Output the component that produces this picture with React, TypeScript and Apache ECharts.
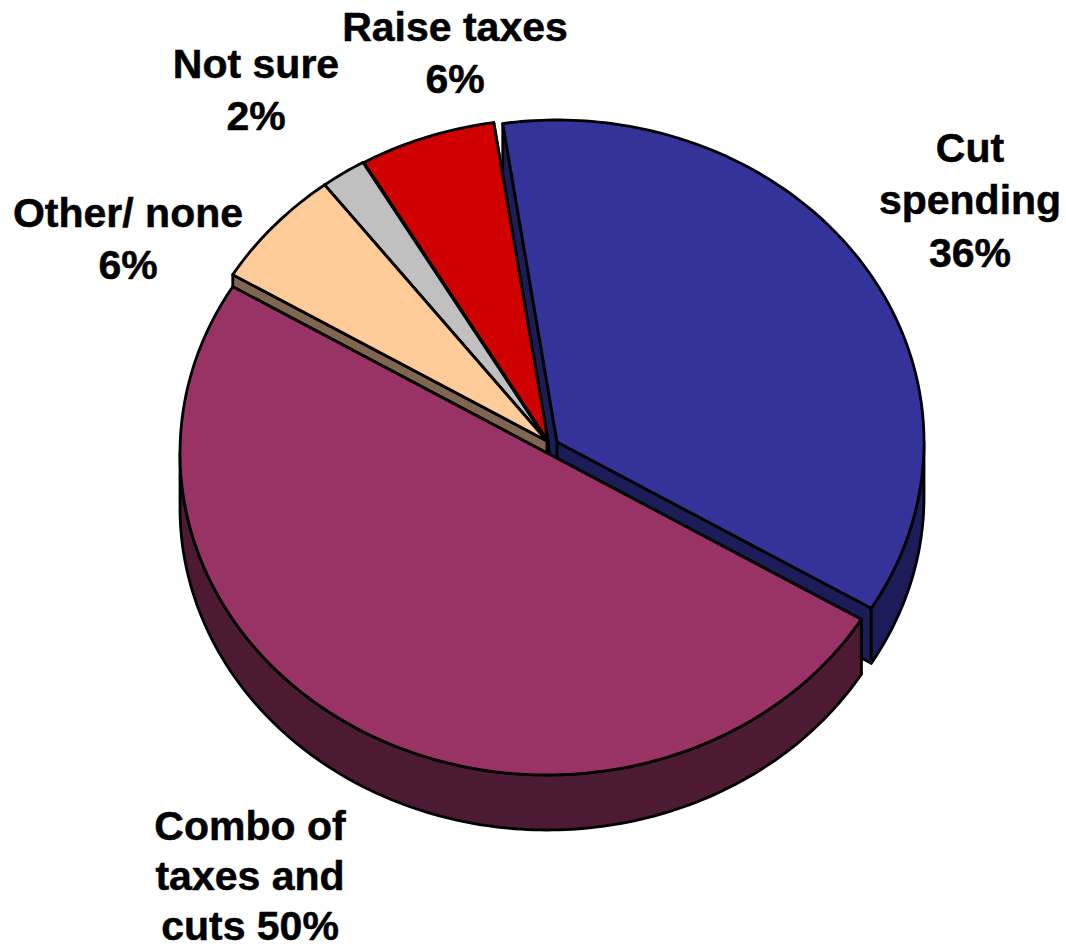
import React, { useEffect, useRef } from "react";
import * as echarts from "echarts";

// Data, clockwise from the start of "Cut spending"
const categories = ["Cut spending", "Combo of taxes and cuts", "Other/ none", "Not sure", "Raise taxes"];
const values = [36, 50, 6, 2, 6];
const labelLines = [
  ["Cut", "spending"],
  ["Combo of", "taxes and", "cuts"],
  ["Other/ none"],
  ["Not sure"],
  ["Raise taxes"],
];

// Presentation
const WIDTH = 1066;
const HEIGHT = 949;
const START_ANGLE = -8.5;
const RX = 367;
const RY = 322;
const DEPTH = 55;
const STROKE = 2.8;
const topColors = ["#333399", "#993366", "#FFCC99", "#C0C0C0", "#D00000"];
const wallColors = ["#1C1C59", "#4D1A33", "#806650", "#606060", "#680000"];
const apexes: [number, number][] = [
  [557, 442],
  [547, 453],
  [547, 441],
  [547, 441],
  [548, 441],
];
const drawOrder = [0, 4, 3, 2, 1];
const labelPos: { x: number; y: number; joined?: boolean; lh?: number }[] = [
  { x: 970, y: 200 },
  { x: 250, y: 876, joined: true, lh: 50 },
  { x: 128, y: 239 },
  { x: 256, y: 90 },
  { x: 455, y: 53 },
];
const FONT = '"Liberation Sans", Arial, sans-serif';

const total = values.reduce((a, b) => a + b, 0);
const startAngles: number[] = [];
values.reduce((acc, v, i) => {
  startAngles[i] = acc;
  return acc + (v / total) * 360;
}, START_ANGLE);

function labelText(i: number) {
  const lines = labelLines[i].slice();
  if (labelPos[i].joined) {
    lines[lines.length - 1] += ` ${values[i]}%`;
  } else {
    lines.push(`${values[i]}%`);
  }
  return lines.join("\n");
}

function pt(ax: number, ay: number, deg: number, dy = 0): number[] {
  const t = (deg * Math.PI) / 180;
  return [ax + RX * Math.sin(t), ay - RY * Math.cos(t) + dy];
}

function arc(ax: number, ay: number, a0: number, a1: number, dy = 0) {
  const pts: number[][] = [];
  const n = Math.max(2, Math.ceil(Math.abs(a1 - a0)));
  for (let k = 0; k <= n; k++) pts.push(pt(ax, ay, a0 + ((a1 - a0) * k) / n, dy));
  return pts;
}

function renderItem(_params: any, api: any) {
  const idx = drawOrder[_params.dataIndex];
  const value = api.value(0);
  const a0 = startAngles[idx];
  const a1 = a0 + (value / total) * 360;
  const [ax, ay] = apexes[idx];
  const stroke = { stroke: "#000", lineWidth: STROKE, lineJoin: "round" };
  const wall = { ...stroke, fill: wallColors[idx] };
  const children: any[] = [];
  const quad = (deg: number) => {
    const p = pt(ax, ay, deg);
    const b = pt(ax, ay, deg, DEPTH);
    children.push({
      type: "polygon",
      shape: { points: [[ax, ay], p, b, [ax, ay + DEPTH]] },
      style: wall,
    });
  };
  quad(a1);
  quad(a0);
  // Outer wall: only the front half (90..270 degrees) faces the viewer
  const w0 = Math.max(a0, 90);
  const w1 = Math.min(a1, 270);
  if (w1 > w0) {
    children.push({
      type: "polygon",
      shape: { points: [...arc(ax, ay, w0, w1), ...arc(ax, ay, w1, w0, DEPTH)] },
      style: wall,
    });
  }
  children.push({
    type: "polygon",
    shape: { points: [[ax, ay], ...arc(ax, ay, a0, a1)] },
    style: { ...stroke, fill: topColors[idx] },
  });
  return { type: "group", children };
}

export default function App() {
  const ref = useRef<HTMLDivElement>(null);
  useEffect(() => {
    const chart = echarts.init(ref.current!, null, { renderer: "svg", width: WIDTH, height: HEIGHT });
    chart.setOption({
      animation: false,
      backgroundColor: "#ffffff",
      series: [
        {
          type: "custom",
          coordinateSystem: "none",
          silent: true,
          renderItem,
          data: drawOrder.map((i) => ({ name: categories[i], value: [values[i]] })),
        },
      ],
      graphic: values.map((_, i) => ({
        type: "text",
        x: labelPos[i].x,
        y: labelPos[i].y,
        z: 100,
        style: {
          text: labelText(i),
          font: `bold 41px ${FONT}`,
          lineHeight: labelPos[i].lh ?? 52.5,
          fill: "#000",
          stroke: "#000",
          lineWidth: 0.5,
          align: "center",
          verticalAlign: "middle",
        },
      })),
    });
    return () => chart.dispose();
  }, []);
  return (
    <div
      ref={ref}
      style={{ position: "fixed", left: 0, top: 0, width: WIDTH, height: HEIGHT, background: "#fff" }}
    />
  );
}
